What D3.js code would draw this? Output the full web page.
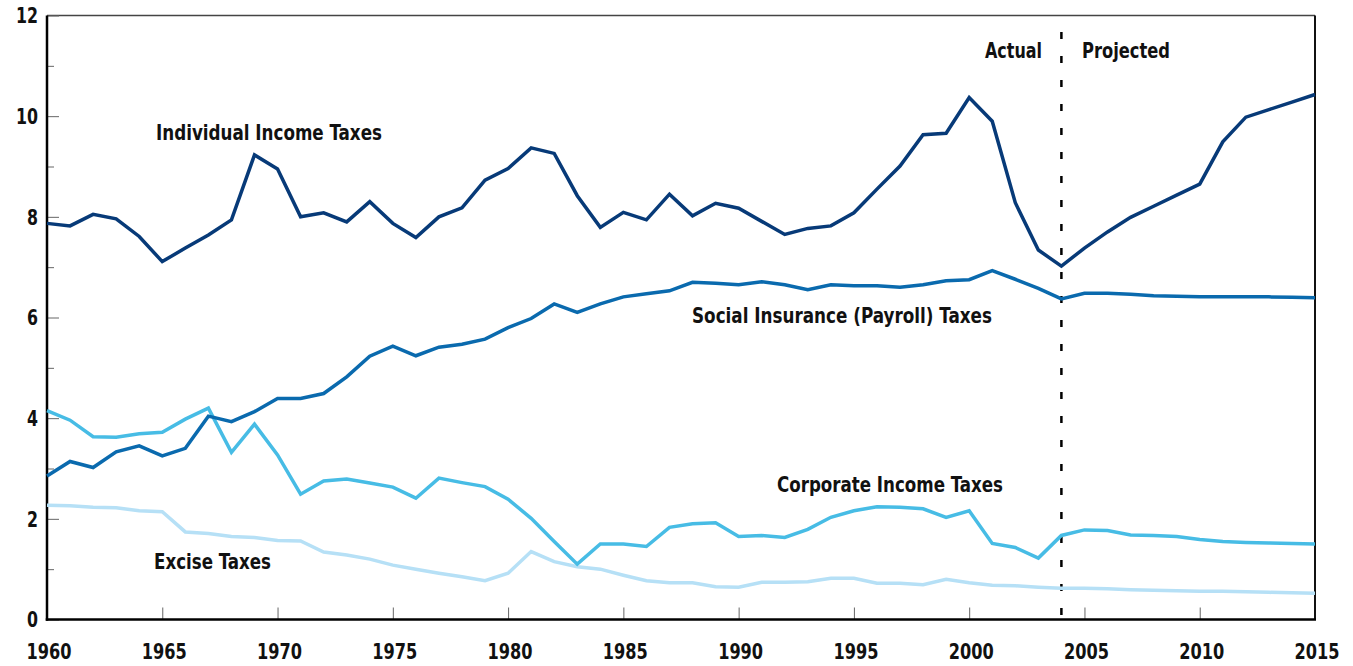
<!DOCTYPE html>
<html>
<head>
<meta charset="utf-8">
<script src="https://cdn.jsdelivr.net/npm/d3@7"></script>
<style>
  html, body { margin: 0; padding: 0; background: #fff; }
  svg { display: block; }
  text { font-family: "DejaVu Sans Condensed", "DejaVu Sans", sans-serif; font-stretch: condensed; font-weight: bold; fill: #111; }
</style>
</head>
<body>
<svg id="chart" width="1353" height="666"></svg>
<script>
const years = d3.range(1960, 2016);

const individual = [7.87,7.82,8.05,7.96,7.61,7.11,7.38,7.64,7.94,9.23,
  8.95,8.00,8.08,7.90,8.30,7.87,7.59,8.00,8.18,8.73,
  8.96,9.37,9.26,8.42,7.79,8.09,7.94,8.45,8.02,8.27,
  8.17,7.91,7.65,7.77,7.82,8.08,8.55,9.01,9.63,9.66,
  10.37,9.90,8.28,7.34,7.02,7.38,7.70,7.99,8.21,8.43,
  8.65,9.49,9.98,10.13,10.28,10.43];

const social = [2.85,3.14,3.02,3.33,3.45,3.25,3.40,4.04,3.93,4.13,
  4.39,4.39,4.49,4.82,5.23,5.43,5.24,5.41,5.47,5.57,
  5.80,5.98,6.27,6.10,6.27,6.41,6.47,6.53,6.70,6.68,
  6.65,6.71,6.65,6.55,6.65,6.63,6.63,6.60,6.65,6.73,
  6.75,6.93,6.76,6.58,6.37,6.48,6.48,6.46,6.43,6.42,
  6.41,6.41,6.41,6.41,6.40,6.39];

const corporate = [4.15,3.96,3.63,3.62,3.69,3.72,3.98,4.20,3.32,3.88,
  3.27,2.49,2.75,2.79,2.71,2.63,2.41,2.81,2.72,2.64,
  2.39,2.01,1.55,1.10,1.50,1.50,1.45,1.83,1.90,1.92,
  1.65,1.67,1.63,1.79,2.03,2.16,2.24,2.23,2.20,2.03,
  2.16,1.51,1.43,1.22,1.67,1.78,1.77,1.68,1.67,1.65,
  1.59,1.55,1.53,1.52,1.51,1.50];

const excise = [2.27,2.26,2.23,2.22,2.16,2.14,1.74,1.71,1.65,1.63,
  1.57,1.56,1.34,1.28,1.20,1.08,1.00,0.92,0.85,0.77,
  0.92,1.35,1.15,1.05,1.00,0.88,0.77,0.73,0.73,0.65,
  0.64,0.74,0.74,0.75,0.82,0.82,0.72,0.72,0.69,0.80,
  0.73,0.68,0.67,0.64,0.62,0.62,0.61,0.59,0.58,0.57,
  0.56,0.56,0.55,0.54,0.53,0.52];

const xTicks = [1960,1965,1970,1975,1980,1985,1990,1995,2000,2005,2010,2015];
const yTicks = [0,2,4,6,8,10,12];
const yMinor = [1,3,5,7,9,11];
const splitYear = 2004;

const series = [
  {name: "Excise Taxes", values: excise, color: "#b6e0f6", lx: 154, ly: 569, w: 117},
  {name: "Corporate Income Taxes", values: corporate, color: "#47bce5", lx: 777, ly: 492, w: 226},
  {name: "Social Insurance (Payroll) Taxes", values: social, color: "#0a6aae", lx: 692, ly: 323, w: 300},
  {name: "Individual Income Taxes", values: individual, color: "#073a78", lx: 156, ly: 140, w: 226}
];

const svg = d3.select("#chart");
const L = 47, R = 1315, T = 15.5, B = 619.5;
const x = d3.scaleLinear().domain([1960, 2015]).range([L, R]);
const y = d3.scaleLinear().domain([0, 12]).range([B, T]);

// frame top and right
svg.append("line").attr("x1", L).attr("x2", R).attr("y1", T).attr("y2", T)
  .attr("stroke", "#444").attr("stroke-width", 1.5);
svg.append("line").attr("x1", R).attr("x2", R).attr("y1", T).attr("y2", B)
  .attr("stroke", "#111").attr("stroke-width", 2);

// y axis
const yAxis = svg.append("g").attr("transform", `translate(${L},0)`)
  .call(d3.axisRight(y).tickValues(yTicks).tickSize(12).tickFormat(""));
yAxis.select(".domain").remove();
yAxis.selectAll("line").attr("stroke", "#666").attr("stroke-width", 1);
const yMinorAxis = svg.append("g").attr("transform", `translate(${L},0)`)
  .call(d3.axisRight(y).tickValues(yMinor).tickSize(7).tickFormat(""));
yMinorAxis.select(".domain").remove();
yMinorAxis.selectAll("line").attr("stroke", "#666").attr("stroke-width", 1);
svg.append("g").selectAll("text").data(yTicks).join("text")
  .attr("x", 38).attr("y", d => y(d)).attr("dy", "0.36em")
  .attr("text-anchor", "end").attr("font-size", 22)
  .attr("textLength", d => String(d).length * 11).attr("lengthAdjust", "spacingAndGlyphs")
  .text(d => d);

// x axis
const xAxis = svg.append("g").attr("transform", `translate(0,${B})`)
  .call(d3.axisTop(x).tickValues(xTicks.slice(1, -1)).tickSize(12).tickFormat(""));
xAxis.select(".domain").remove();
xAxis.selectAll("line").attr("stroke", "#666").attr("stroke-width", 1);
svg.append("g").selectAll("text").data(xTicks).join("text")
  .attr("x", d => x(d) + 2).attr("y", 659)
  .attr("text-anchor", "middle").attr("font-size", 22)
  .attr("textLength", 45).attr("lengthAdjust", "spacingAndGlyphs")
  .text(d => d);

// axis lines
svg.append("line").attr("x1", L).attr("x2", L).attr("y1", T).attr("y2", B + 1.25)
  .attr("stroke", "#000").attr("stroke-width", 2.5);
svg.append("line").attr("x1", L - 1.25).attr("x2", R + 1).attr("y1", B).attr("y2", B)
  .attr("stroke", "#000").attr("stroke-width", 2.5);

// dashed split line
svg.append("line").attr("x1", x(splitYear)).attr("x2", x(splitYear))
  .attr("y1", 32).attr("y2", B)
  .attr("stroke", "#000").attr("stroke-width", 2.5).attr("stroke-dasharray", "7,17");

// lines
const line = d3.line().x((d, i) => x(years[i])).y(d => y(d));
svg.append("g").selectAll("path").data(series).join("path")
  .attr("d", d => line(d.values))
  .attr("fill", "none").attr("stroke", d => d.color)
  .attr("stroke-width", 3.5).attr("stroke-linejoin", "miter");

// labels
svg.append("g").selectAll("text").data(series).join("text")
  .attr("x", d => d.lx).attr("y", d => d.ly).attr("font-size", 22)
  .attr("textLength", d => d.w).attr("lengthAdjust", "spacingAndGlyphs")
  .text(d => d.name);

svg.append("text").attr("x", 985).attr("y", 58)
  .attr("font-size", 22).attr("textLength", 57).attr("lengthAdjust", "spacingAndGlyphs")
  .text("Actual");
svg.append("text").attr("x", 1082).attr("y", 58)
  .attr("font-size", 22).attr("textLength", 88).attr("lengthAdjust", "spacingAndGlyphs")
  .text("Projected");
</script>
</body>
</html>
